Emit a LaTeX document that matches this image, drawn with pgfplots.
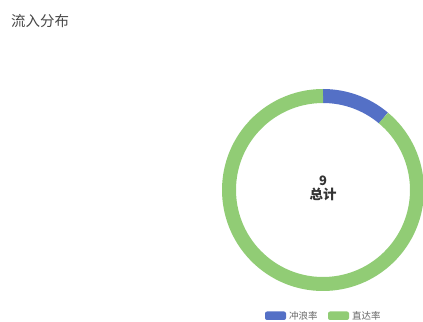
\documentclass[border=0pt]{standalone}
\usepackage{pgfplots}
\pgfplotsset{compat=1.18}
\usepackage{fontspec}
\setmainfont{Noto Sans CJK SC}
\newfontfamily\cjk{Noto Sans CJK SC}
\definecolor{cblue}{HTML}{5470C6}
\definecolor{cgreen}{HTML}{91CC75}
\definecolor{ctitle}{HTML}{464646}
\definecolor{ctext}{HTML}{333333}
\definecolor{clegend}{HTML}{666666}
% data: 冲浪率 = 1, 直达率 = 8
\pgfmathsetmacro{\va}{1}
\pgfmathsetmacro{\vb}{8}
\pgfmathsetmacro{\tot}{\va+\vb}
\pgfmathsetmacro{\aend}{90-360*\va/\tot}
\begin{document}
\begin{tikzpicture}
\begin{axis}[scale only axis, width=423bp, height=322bp,
  xmin=0, xmax=423, ymin=0, ymax=322, hide axis, clip=false]
\addplot[draw=none] coordinates {(0,0) (423,322)};
% donut
\draw[overlay, cblue, line width=14bp] (axis cs:323,132) ++(90:94bp) arc[start angle=90, end angle=\aend, radius=94bp];
\draw[overlay, cgreen, line width=14bp] (axis cs:323,132) ++(\aend:94bp) arc[start angle=\aend, end angle=-270, radius=94bp];
% centre text
\node[overlay, font=\cjk\bfseries\fontsize{13}{15}\selectfont, text=ctext, align=center] at (axis cs:323,141) {9};
\node[overlay, font=\cjk\bfseries\fontsize{13.5}{15}\selectfont, text=ctext] at (axis cs:323,128) {总计};
% title
\node[overlay, font=\cjk\fontsize{14.5}{17}\selectfont, text=ctitle, anchor=west, inner sep=0pt] at (axis cs:11,301) {流入分布};
% legend
\fill[overlay, cblue, rounded corners=2bp] (axis cs:265,2) rectangle (axis cs:286,10.5);
\node[overlay, font=\cjk\fontsize{9.5}{11}\selectfont, text=clegend, anchor=west, inner sep=0pt] at (axis cs:289,6.5) {冲浪率};
\fill[overlay, cgreen, rounded corners=2bp] (axis cs:328,2) rectangle (axis cs:349,10.5);
\node[overlay, font=\cjk\fontsize{9.5}{11}\selectfont, text=clegend, anchor=west, inner sep=0pt] at (axis cs:352,6.5) {直达率};
\end{axis}
\end{tikzpicture}
\end{document}
